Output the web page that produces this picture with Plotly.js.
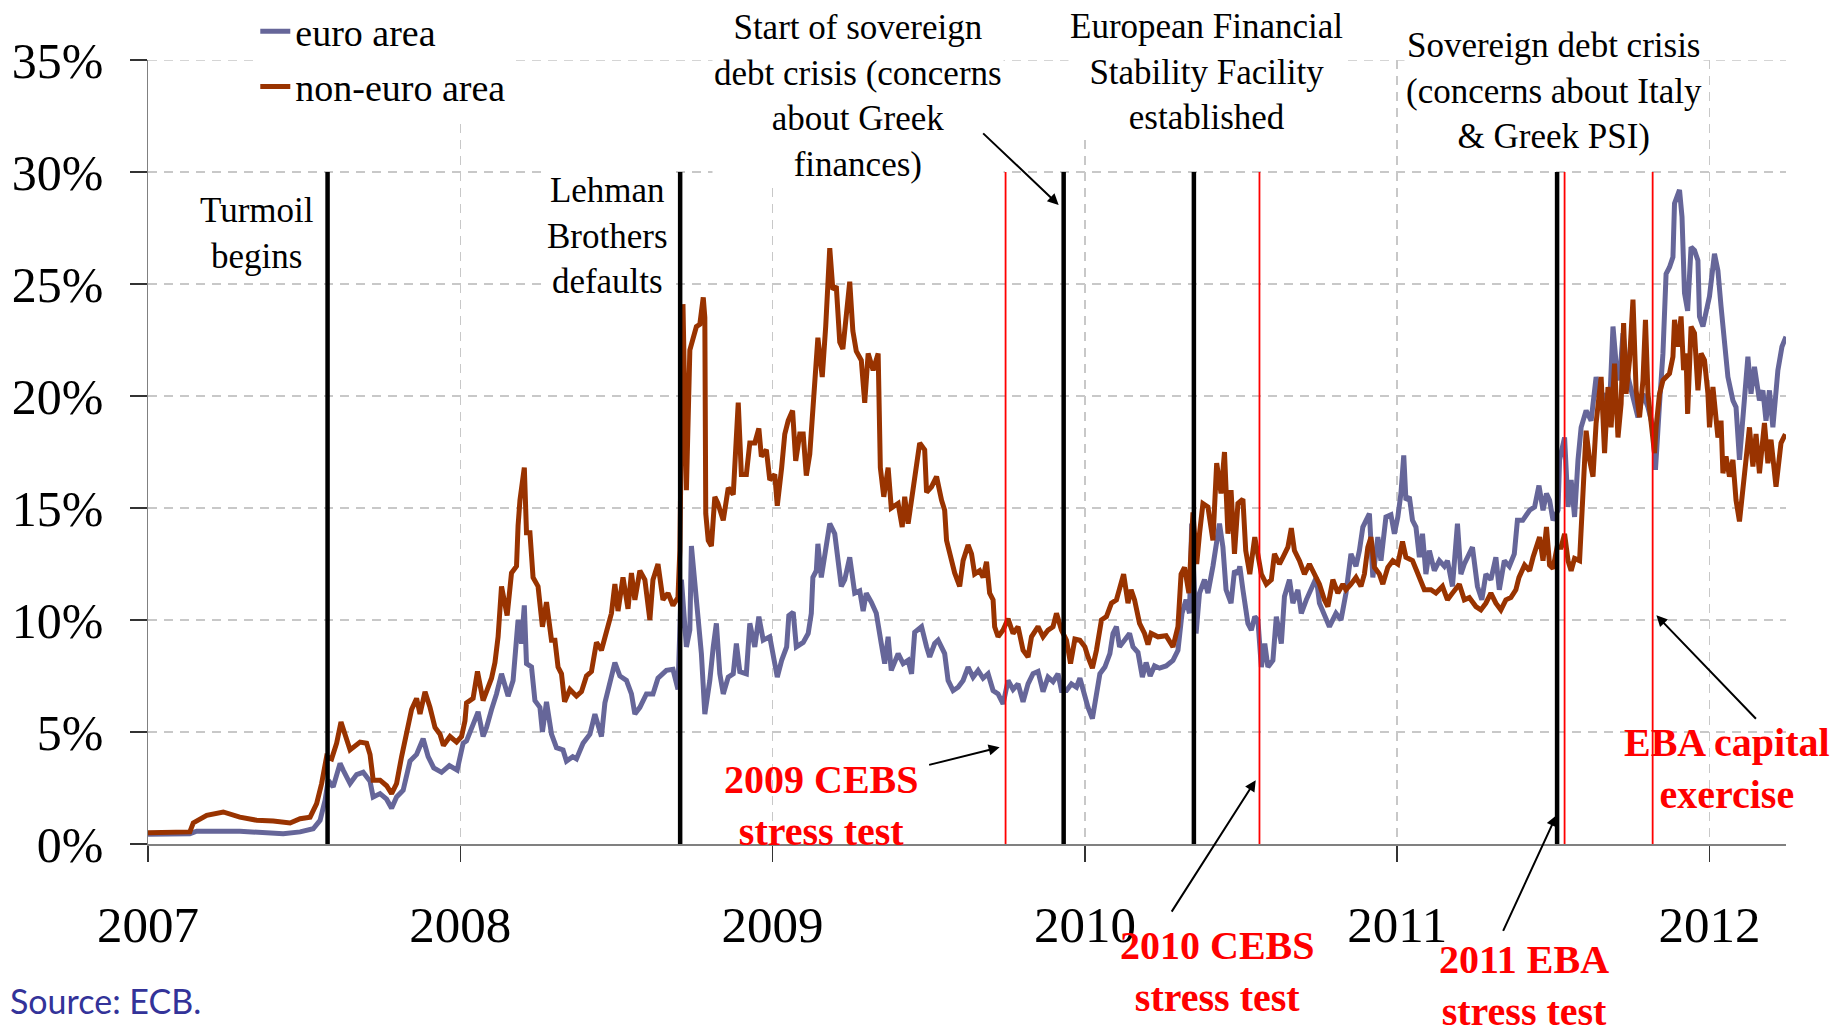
<!DOCTYPE html>
<html><head><meta charset="utf-8">
<script src="https://cdn.plot.ly/plotly-3.0.1.min.js"></script>
<style>html,body{margin:0;padding:0;background:#fff}#chart{width:1835px;height:1031px}</style>
</head><body><div id="chart"></div>
<script>
// ---- data (decimal years, percent) ----
const euroYears = [2007.000,2007.134,2007.156,2007.188,2007.294,2007.433,2007.487,2007.529,2007.551,2007.567,2007.577,2007.593,2007.615,2007.625,2007.647,2007.668,2007.689,2007.711,2007.721,2007.743,2007.764,2007.780,2007.796,2007.817,2007.839,2007.860,2007.881,2007.897,2007.915,2007.940,2007.965,2007.990,2008.009,2008.020,2008.041,2008.057,2008.073,2008.084,2008.100,2008.116,2008.132,2008.153,2008.169,2008.185,2008.196,2008.205,2008.212,2008.228,2008.239,2008.255,2008.263,2008.276,2008.292,2008.308,2008.329,2008.340,2008.360,2008.372,2008.393,2008.415,2008.431,2008.452,2008.463,2008.479,2008.495,2008.511,2008.532,2008.548,2008.559,2008.575,2008.596,2008.617,2008.633,2008.660,2008.681,2008.697,2008.708,2008.724,2008.735,2008.740,2008.756,2008.772,2008.783,2008.799,2008.810,2008.820,2008.831,2008.842,2008.858,2008.874,2008.884,2008.895,2008.916,2008.927,2008.943,2008.956,2008.970,2008.991,2009.015,2009.029,2009.045,2009.052,2009.066,2009.076,2009.098,2009.114,2009.124,2009.129,2009.140,2009.145,2009.156,2009.172,2009.183,2009.199,2009.209,2009.220,2009.231,2009.247,2009.263,2009.279,2009.290,2009.300,2009.316,2009.332,2009.348,2009.359,2009.370,2009.380,2009.402,2009.418,2009.434,2009.445,2009.455,2009.477,2009.493,2009.503,2009.519,2009.530,2009.551,2009.562,2009.578,2009.594,2009.610,2009.626,2009.642,2009.658,2009.674,2009.690,2009.706,2009.722,2009.738,2009.754,2009.770,2009.786,2009.802,2009.818,2009.834,2009.850,2009.866,2009.882,2009.898,2009.914,2009.925,2009.941,2009.957,2009.973,2009.984,2010.000,2010.010,2010.024,2010.037,2010.048,2010.064,2010.080,2010.090,2010.101,2010.111,2010.127,2010.143,2010.154,2010.170,2010.184,2010.196,2010.209,2010.223,2010.239,2010.260,2010.282,2010.298,2010.311,2010.324,2010.335,2010.342,2010.356,2010.367,2010.383,2010.394,2010.410,2010.420,2010.431,2010.442,2010.452,2010.468,2010.479,2010.490,2010.496,2010.506,2010.522,2010.533,2010.544,2010.554,2010.565,2010.576,2010.586,2010.602,2010.613,2010.629,2010.639,2010.655,2010.666,2010.682,2010.693,2010.709,2010.725,2010.741,2010.751,2010.767,2010.783,2010.804,2010.820,2010.836,2010.852,2010.868,2010.879,2010.890,2010.900,2010.911,2010.922,2010.938,2010.948,2010.964,2010.980,2010.991,2011.002,2011.012,2011.021,2011.028,2011.039,2011.049,2011.060,2011.071,2011.081,2011.092,2011.103,2011.119,2011.135,2011.151,2011.161,2011.177,2011.193,2011.204,2011.215,2011.231,2011.241,2011.257,2011.271,2011.284,2011.300,2011.316,2011.327,2011.343,2011.359,2011.375,2011.385,2011.402,2011.424,2011.440,2011.454,2011.467,2011.478,2011.488,2011.499,2011.515,2011.520,2011.536,2011.547,2011.557,2011.568,2011.579,2011.589,2011.605,2011.621,2011.637,2011.648,2011.664,2011.680,2011.691,2011.701,2011.712,2011.723,2011.739,2011.755,2011.771,2011.787,2011.803,2011.819,2011.827,2011.840,2011.851,2011.861,2011.872,2011.883,2011.888,2011.904,2011.912,2011.920,2011.930,2011.941,2011.952,2011.963,2011.968,2011.979,2011.989,2012.000,2012.016,2012.027,2012.037,2012.048,2012.059,2012.075,2012.085,2012.096,2012.107,2012.123,2012.133,2012.144,2012.160,2012.171,2012.181,2012.192,2012.203,2012.219,2012.232,2012.245];
const euroValues = [0.43,0.46,0.57,0.57,0.57,0.46,0.54,0.68,1.06,1.95,2.84,2.55,3.6,3.3,2.7,3.1,3.2,2.8,2.1,2.25,2.0,1.6,2.1,2.4,3.7,4.0,4.7,3.9,3.4,3.2,3.5,3.3,4.5,4.6,5.4,5.9,4.8,5.2,6.0,6.7,7.6,6.6,7.3,10.0,8.95,10.65,8.05,7.9,6.4,6.1,5.0,6.35,4.9,4.3,4.2,3.7,3.9,3.8,4.5,4.9,5.8,4.8,6.3,7.3,8.1,7.5,7.3,6.7,5.8,6.1,6.7,6.7,7.4,7.75,7.8,6.9,11.8,8.8,9.55,13.3,11.0,8.5,5.8,7.3,8.8,9.85,7.6,6.7,7.45,7.6,8.95,7.7,7.6,9.85,8.8,10.15,9.1,9.25,7.45,8.2,8.8,10.2,10.35,8.8,9.0,9.4,10.3,11.9,12.2,13.4,11.9,13.55,14.3,13.85,12.8,11.5,11.8,12.8,11.2,11.3,10.4,11.2,10.8,10.3,8.95,8.05,9.25,7.75,8.5,8.05,8.2,7.6,9.45,9.7,8.8,8.35,8.95,9.1,8.5,7.3,6.85,7.0,7.3,7.9,7.45,7.75,7.4,7.6,6.85,6.7,6.25,7.3,6.9,7.15,6.35,7.15,7.6,7.7,6.8,7.45,7.25,7.6,6.85,6.85,7.15,7.0,7.4,6.55,6.1,5.6,6.55,7.6,7.9,8.5,9.4,9.7,8.8,9.1,9.4,8.8,8.55,7.45,8.1,7.5,7.95,7.85,7.95,8.2,8.65,10.3,10.9,10.3,14.3,9.4,11.2,11.8,11.2,12.4,13.25,14.3,13.25,11.35,10.75,12.2,12.05,12.4,11.35,9.85,9.55,10.15,10.0,7.9,8.95,7.9,8.2,10.15,8.95,11.05,11.8,10.75,11.35,10.3,10.9,11.35,11.9,10.75,10.15,9.7,10.3,10.0,11.2,12.95,12.4,13.1,14.15,14.45,14.75,11.9,13.7,12.65,14.6,14.7,13.85,14.6,15.65,17.35,15.35,15.5,14.45,14.15,12.8,13.85,12.05,13.1,12.2,12.65,12.4,12.65,11.5,14.3,12.05,12.5,13.0,13.25,11.5,10.9,12.05,11.8,12.8,11.35,12.65,12.4,12.95,14.45,14.45,14.9,15.05,16.0,14.9,15.65,15.35,14.45,14.9,17.15,18.15,15.05,16.25,14.6,17.15,18.6,19.35,18.9,20.85,19.8,20.1,19.5,23.1,21.45,20.7,22.8,20.85,19.95,19.05,20.1,19.5,18.6,16.7,19.65,21.9,25.45,25.75,26.2,28.6,29.2,28.0,24.6,23.8,26.65,26.5,26.05,23.55,23.1,23.7,24.45,26.35,25.6,24.0,22.2,20.85,19.8,19.5,17.15,19.2,21.75,20.1,21.3,19.8,20.25,18.9,20.25,18.6,21.15,22.2,22.65];

const nonEuroYears = [2007.000,2007.134,2007.145,2007.188,2007.241,2007.294,2007.348,2007.401,2007.455,2007.487,2007.519,2007.540,2007.556,2007.572,2007.588,2007.604,2007.618,2007.631,2007.647,2007.679,2007.700,2007.711,2007.721,2007.743,2007.764,2007.780,2007.796,2007.812,2007.828,2007.844,2007.860,2007.871,2007.887,2007.903,2007.919,2007.935,2007.946,2007.967,2007.988,2008.004,2008.015,2008.020,2008.041,2008.055,2008.073,2008.100,2008.111,2008.121,2008.132,2008.150,2008.164,2008.180,2008.185,2008.191,2008.205,2008.212,2008.223,2008.233,2008.249,2008.263,2008.276,2008.292,2008.303,2008.313,2008.324,2008.334,2008.351,2008.372,2008.388,2008.404,2008.420,2008.436,2008.452,2008.468,2008.484,2008.495,2008.505,2008.521,2008.537,2008.548,2008.559,2008.575,2008.591,2008.607,2008.617,2008.633,2008.649,2008.665,2008.681,2008.697,2008.703,2008.713,2008.724,2008.735,2008.746,2008.756,2008.767,2008.778,2008.783,2008.786,2008.794,2008.804,2008.815,2008.825,2008.842,2008.858,2008.874,2008.890,2008.900,2008.916,2008.927,2008.943,2008.956,2008.964,2008.980,2008.991,2009.007,2009.015,2009.029,2009.039,2009.050,2009.064,2009.074,2009.087,2009.098,2009.108,2009.119,2009.132,2009.145,2009.159,2009.170,2009.183,2009.193,2009.204,2009.215,2009.225,2009.236,2009.247,2009.257,2009.268,2009.284,2009.295,2009.306,2009.322,2009.338,2009.345,2009.356,2009.370,2009.380,2009.402,2009.415,2009.423,2009.434,2009.445,2009.461,2009.471,2009.487,2009.493,2009.509,2009.525,2009.541,2009.551,2009.557,2009.567,2009.583,2009.599,2009.610,2009.626,2009.637,2009.647,2009.663,2009.674,2009.685,2009.695,2009.706,2009.711,2009.722,2009.738,2009.754,2009.770,2009.786,2009.802,2009.818,2009.829,2009.850,2009.866,2009.882,2009.898,2009.909,2009.925,2009.941,2009.954,2009.968,2009.984,2010.000,2010.010,2010.024,2010.037,2010.053,2010.069,2010.085,2010.101,2010.111,2010.124,2010.138,2010.148,2010.159,2010.175,2010.191,2010.202,2010.212,2010.234,2010.260,2010.282,2010.298,2010.308,2010.319,2010.333,2010.346,2010.358,2010.367,2010.378,2010.394,2010.410,2010.422,2010.436,2010.447,2010.458,2010.468,2010.479,2010.490,2010.506,2010.515,2010.528,2010.544,2010.554,2010.565,2010.581,2010.597,2010.607,2010.623,2010.634,2010.650,2010.661,2010.671,2010.687,2010.703,2010.719,2010.735,2010.751,2010.767,2010.778,2010.794,2010.810,2010.826,2010.836,2010.852,2010.868,2010.884,2010.895,2010.906,2010.916,2010.927,2010.943,2010.954,2010.970,2010.986,2011.002,2011.017,2011.028,2011.049,2011.071,2011.087,2011.108,2011.124,2011.145,2011.161,2011.177,2011.199,2011.215,2011.231,2011.252,2011.268,2011.284,2011.300,2011.316,2011.332,2011.348,2011.364,2011.380,2011.390,2011.408,2011.424,2011.435,2011.456,2011.467,2011.478,2011.488,2011.499,2011.512,2011.525,2011.536,2011.547,2011.557,2011.568,2011.584,2011.589,2011.597,2011.605,2011.616,2011.627,2011.637,2011.648,2011.653,2011.664,2011.675,2011.685,2011.696,2011.707,2011.717,2011.725,2011.733,2011.744,2011.755,2011.765,2011.776,2011.787,2011.795,2011.803,2011.813,2011.824,2011.829,2011.840,2011.851,2011.861,2011.872,2011.883,2011.888,2011.899,2011.909,2011.917,2011.925,2011.930,2011.941,2011.952,2011.963,2011.973,2011.984,2011.995,2012.000,2012.011,2012.027,2012.037,2012.043,2012.053,2012.064,2012.075,2012.085,2012.096,2012.107,2012.117,2012.128,2012.139,2012.149,2012.160,2012.176,2012.187,2012.197,2012.213,2012.229,2012.243];
const nonEuroValues = [0.5,0.54,0.94,1.28,1.43,1.2,1.06,1.03,0.94,1.13,1.2,1.8,2.7,3.9,3.8,4.5,5.45,4.9,4.2,4.55,4.5,4.0,2.85,2.85,2.6,2.25,2.7,3.9,5.1,6.0,6.5,5.8,6.8,6.1,5.2,4.9,4.4,4.8,4.55,4.8,5.5,6.3,6.5,7.7,6.4,7.4,8.1,9.25,11.5,10.2,12.1,12.4,14.2,15.35,16.8,13.9,13.9,11.9,11.5,9.7,10.8,9.1,9.1,7.9,7.6,6.35,6.9,6.6,6.8,7.5,7.7,9.0,8.65,9.55,10.3,11.6,10.4,11.9,10.5,12.1,10.9,12.2,11.8,10.0,11.8,12.5,10.9,11.2,10.65,11.0,13.1,24.1,15.8,22.05,22.6,23.1,23.2,24.4,23.5,14.75,13.55,13.3,15.5,15.2,14.45,15.9,15.6,19.7,16.5,16.5,17.9,17.9,18.55,17.3,17.6,16.25,16.5,15.1,16.8,18.3,18.9,19.35,17.1,18.3,18.3,16.45,17.4,19.8,22.6,20.85,23.1,26.6,24.75,24.9,22.4,22.1,23.7,25.1,22.9,22.0,21.6,19.7,21.9,21.15,21.9,16.8,15.5,16.8,15.0,15.2,14.15,15.5,14.3,15.35,17.0,17.9,17.6,15.7,15.95,16.4,15.35,14.9,13.55,12.95,12.1,11.5,12.65,13.35,12.95,12.05,12.2,11.9,12.6,11.2,10.9,9.7,9.25,9.55,10.05,9.4,9.7,8.65,8.35,9.25,9.7,9.25,9.55,9.7,10.3,9.55,9.1,8.05,9.15,9.1,8.8,8.35,7.85,8.65,10.0,10.15,10.75,10.9,11.35,12.05,10.75,11.35,10.9,9.85,9.4,8.9,9.4,9.25,9.3,8.8,9.7,12.05,12.35,11.2,14.8,12.5,13.85,15.2,15.05,13.55,17.0,15.65,17.5,13.85,15.8,12.95,15.2,15.4,13.1,12.05,13.7,12.8,12.05,11.6,11.8,12.95,12.5,12.8,13.25,14.1,13.1,12.65,12.05,12.5,12.05,11.6,10.9,10.6,11.8,11.2,11.6,11.35,11.6,11.9,11.5,12.05,13.25,13.7,12.35,12.05,11.6,12.35,12.65,12.5,13.5,12.8,12.65,11.9,11.35,11.35,11.2,11.5,10.9,11.2,11.6,10.9,11.0,10.6,10.45,10.75,11.2,10.75,10.45,10.9,11.0,11.35,11.9,12.45,12.2,12.8,13.7,12.65,14.15,12.45,12.3,13.25,13.25,13.85,12.65,12.2,12.75,12.65,13.85,16.1,18.45,17.15,16.4,18.8,20.1,20.85,17.45,20.4,18.6,21.45,18.15,19.65,23.25,20.1,21.6,24.3,20.25,19.05,20.7,23.4,20.1,18.9,17.45,18.6,20.1,20.7,20.85,21.0,21.75,23.4,22.2,23.55,21.15,21.9,19.2,23.1,22.8,20.25,21.9,21.6,20.1,18.6,20.4,18.15,18.9,16.55,17.3,16.4,17.15,15.35,14.4,15.8,17.15,18.6,16.85,18.3,16.55,18.8,17.0,18.05,15.95,17.9,18.3];

const seriesNames = ['euro area', 'non-euro area'];
const seriesColors = ['#666699', '#993300'];
const yearTicks = [2007, 2008, 2009, 2010, 2011, 2012];
const yearLabels = ['2007', '2008', '2009', '2010', '2011', '2012'];
const pctTicks = [0, 5, 10, 15, 20, 25, 30, 35];
const pctLabels = ['0%', '5%', '10%', '15%', '20%', '25%', '30%', '35%'];
const eventYearsBlack = [2007.575, 2008.704, 2009.932, 2010.349, 2011.512];
const eventYearsRed = [2009.746, 2010.559, 2011.536, 2011.818];
const eventTop = 30;
const xRange = [2007, 2012.245];
const yRange = [0, 35];

const serif = '"Liberation Serif", "Times New Roman", serif';
const gridColor = '#c8c8c8';
const gridDash = '9px,7px';

const traces = [
  {x: euroYears, y: euroValues, name: seriesNames[0], legendgroup: 'a', type: 'scatter', mode: 'lines',
   line: {color: seriesColors[0], width: 5}},
  {x: nonEuroYears, y: nonEuroValues, name: seriesNames[1], legendgroup: 'b', type: 'scatter', mode: 'lines',
   line: {color: seriesColors[1], width: 5}}
];

const shapes = [
  // top (35%) gridline, which Plotly skips at the range edge
  {type: 'line', xref: 'x', yref: 'y', x0: xRange[0], x1: xRange[1], y0: yRange[1], y1: yRange[1],
   layer: 'below', line: {color: gridColor, width: 1.5, dash: gridDash}}
];
eventYearsBlack.forEach(d => shapes.push({type: 'line', xref: 'x', yref: 'y', x0: d, x1: d, y0: 0, y1: eventTop,
  layer: 'above', line: {color: '#000000', width: 4.5}}));
eventYearsRed.forEach(d => shapes.push({type: 'line', xref: 'x', yref: 'y', x0: d, x1: d, y0: 0, y1: eventTop,
  layer: 'above', line: {color: '#FF0000', width: 1.8}}));

function note(text, x, y, opts) {
  return Object.assign({text: text, xref: 'paper', yref: 'paper', x: x, y: y, xanchor: 'center', yanchor: 'middle',
    showarrow: false, align: 'center', font: {family: serif, size: 35, color: '#000'}}, opts || {});
}
function redNote(text, x, y) {
  return note('<b>' + text + '</b>', x, y, {font: {family: serif, size: 40, color: '#FF0000'}});
}
function arrow(x, y, ax, ay) {
  return {text: '', x: x, y: y, xref: 'x', yref: 'y', ax: ax, ay: ay, showarrow: true,
    arrowhead: 2, arrowsize: 1.1, arrowwidth: 2, arrowcolor: '#000', standoff: 0, startstandoff: 0};
}

const annotations = [
  note('Turmoil<br>begins', 0.0663, 0.7793, {bgcolor: '#fff'}),
  note('Lehman<br>Brothers<br>defaults', 0.2808, 0.7756, {bgcolor: '#fff'}),
  note('Start of sovereign<br>debt crisis (concerns<br>about Greek<br>finances)', 0.4335, 0.9545, {bgcolor: '#fff'}),
  note('European Financial<br>Stability Facility<br>established', 0.6465, 0.9846, {bgcolor: '#fff'}),
  note('Sovereign debt crisis<br>(concerns about Italy<br>&amp; Greek PSI)', 0.8584, 0.9604, {bgcolor: '#fff'}),
  redNote('2009 CEBS<br>stress test', 0.4109, 0.0485),
  redNote('2010 CEBS<br>stress test', 0.6532, -0.1629),
  redNote('2011 EBA<br>stress test', 0.8400, -0.1800),
  redNote('EBA capital<br>exercise', 0.9640, 0.0969),
  arrow(2009.916, 28.53, -77, -73),
  arrow(2009.727, 4.32, -72, 18),
  arrow(2010.547, 2.85, -85, 133),
  arrow(2011.510, 1.28, -54, 117),
  arrow(2011.830, 10.21, 101, 105),
  note('Source: ECB.', -0.0855, -0.199, {xanchor: 'left', align: 'left',
    font: {family: 'Lato, "Open Sans", sans-serif', size: 34, color: '#333399'}})
];

const axisCommon = {
  showgrid: true, gridcolor: gridColor, gridwidth: 1.5, griddash: gridDash,
  showline: true, linecolor: '#808080', linewidth: 1.5, zeroline: false,
  ticks: 'outside', tickcolor: '#333', tickwidth: 1.5, tickmode: 'array'
};

const layout = {
  width: 1835, height: 1031,
  margin: {l: 148, r: 49, t: 60, b: 187, autoexpand: false},
  paper_bgcolor: '#fff', plot_bgcolor: '#fff',
  showlegend: true,
  legend: {x: 0.0655, y: 1.0765, xanchor: 'left', yanchor: 'top', bgcolor: '#fff', borderwidth: 0,
    traceorder: 'grouped', tracegroupgap: 3, font: {family: serif, size: 38, color: '#000'}},
  xaxis: Object.assign({}, axisCommon, {range: xRange, tickvals: yearTicks, ticktext: yearLabels,
    ticklen: 16, ticklabelstandoff: 19, tickfont: {family: serif, size: 51, color: '#000'}}),
  yaxis: Object.assign({}, axisCommon, {range: yRange, tickvals: pctTicks, ticktext: pctLabels,
    ticklen: 17, ticklabelstandoff: 16, tickfont: {family: serif, size: 50, color: '#000'}}),
  shapes: shapes,
  annotations: annotations,
  hovermode: false
};

Plotly.newPlot('chart', traces, layout, {displayModeBar: false, staticPlot: true});
</script>
</body></html>
